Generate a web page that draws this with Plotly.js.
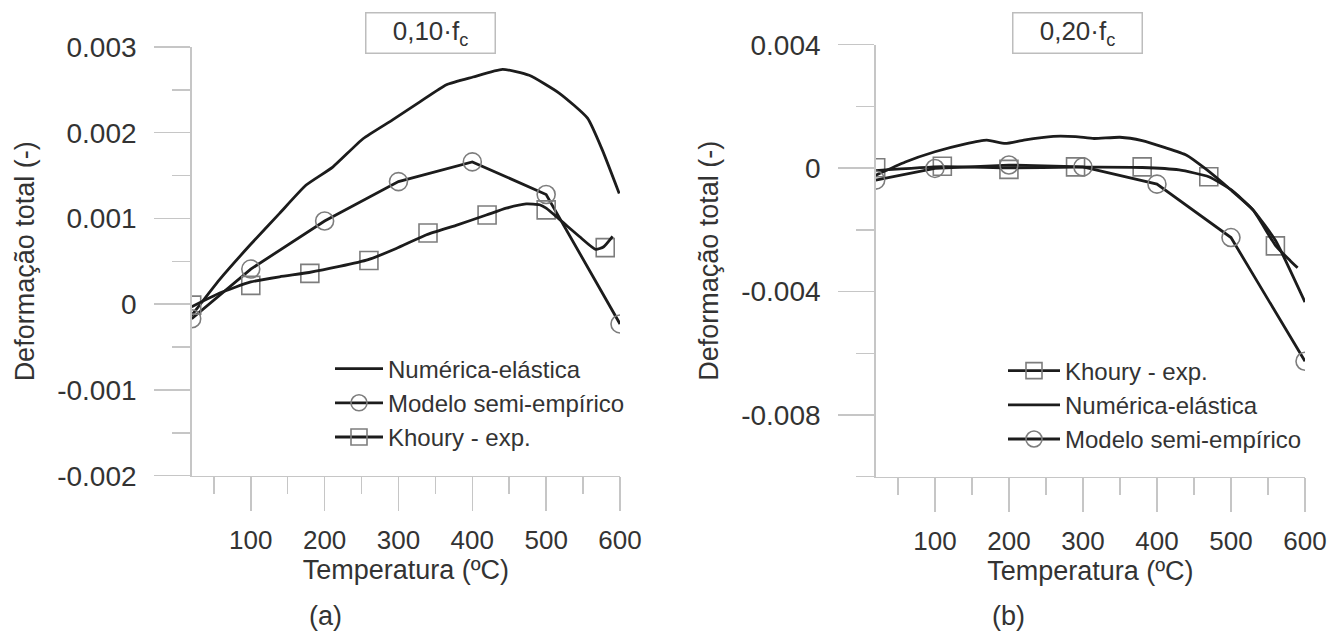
<!DOCTYPE html>
<html><head><meta charset="utf-8">
<script src="https://cdn.plot.ly/plotly-3.0.1.min.js"></script>
<style>html,body{margin:0;padding:0;background:#fff;} #chart{width:1330px;height:633px;}</style>
</head><body><div id="chart"></div>
<script>
// ---------- (a) 0,10·fc ----------
const numA_T = [20, 58, 99, 139, 175, 211, 252, 292, 329, 365, 401, 441, 477, 518, 556, 576, 599];
const numA_v = [-0.00013, 0.00029, 0.00069, 0.00106, 0.00139, 0.0016, 0.00193, 0.00215, 0.00236, 0.00256, 0.00265, 0.00274, 0.00267, 0.00246, 0.00217, 0.0018, 0.00129];
const modA_T = [20, 100, 200, 300, 400, 500, 600];
const modA_v = [-0.00017, 0.00041, 0.00097, 0.00143, 0.00166, 0.00128, -0.00023];
const khoA_pT = [20, 100, 180, 260, 340, 420, 500, 580];
const khoA_pv = [-0.00001, 0.00022, 0.00036, 0.00051, 0.00083, 0.00104, 0.0011, 0.00066];
const khoA_lT = [20, 58, 100, 139, 179, 220, 259, 297, 338, 378, 419, 446, 473, 491, 500, 522, 545, 567, 578, 590];
const khoA_lv = [-0.00003, 0.00013, 0.00026, 0.00032, 0.00037, 0.00044, 0.00052, 0.00065, 0.00081, 0.00092, 0.00104, 0.00112, 0.00117, 0.00116, 0.00112, 0.00096, 0.00079, 0.00064, 0.00067, 0.00079];

// ---------- (b) 0,20·fc ----------
const numB_T = [20, 60, 100, 140, 170, 195, 220, 260, 290, 315, 350, 380, 410, 440, 465, 500, 530, 560, 580, 600];
const numB_v = [-0.00023, 0.0002, 0.00053, 0.00078, 0.00091, 0.0008, 0.00091, 0.00103, 0.00102, 0.00096, 0.001, 0.00089, 0.00067, 0.00042, -0.00001, -0.00071, -0.00136, -0.00234, -0.00331, -0.00434];
const modB_T = [20, 100, 200, 300, 400, 500, 600];
const modB_v = [-0.00039, -0.00001, 0.0001, 0.00004, -0.00052, -0.00225, -0.00626];
const khoB_pT = [20, 110, 200, 290, 380, 470, 560];
const khoB_pv = [0.00001, 0.00006, -0.00004, 0.00004, 0.00004, -0.00028, -0.00252];
const khoB_lT = [20, 110, 200, 290, 380, 430, 470, 500, 530, 560, 580, 590];
const khoB_lv = [-0.00008, 0.00005, 0.00001, 0.00003, 0.00002, -0.00006, -0.00028, -0.0007, -0.00136, -0.0025, -0.003, -0.00323];

// ---------- labels ----------
const nameNum = 'Numérica-elástica';
const nameMod = 'Modelo semi-empírico';
const nameKho = 'Khoury - exp.';
const xTitle = 'Temperatura (ºC)';
const yTitle = 'Deformação total (-)';
const yA_tickvals = [-0.002, -0.001, 0, 0.001, 0.002, 0.003];
const yA_ticktext = ['-0.002', '-0.001', '0', '0.001', '0.002', '0.003'];
const yB_tickvals = [-0.008, -0.004, 0, 0.004];
const yB_ticktext = ['-0.008', '-0.004', '0', '0.004'];
const panelTitles = ['0,10·f<sub>c</sub>', '0,20·f<sub>c</sub>'];
const panelLetters = ['(a)', '(b)'];

// ---------- styles ----------
const LINE = {color: '#1c1c1c', width: 2.8};
const MK = {color: '#7d7d7d', size: 18, line: {width: 1.6, color: '#7d7d7d'}};
const FONT = 'Liberation Sans, Arial, Helvetica, sans-serif';
const AX = '#c6c6c6';

function numTrace(T, v, xa, ya, lg) {
  return {x: T, y: v, xaxis: xa, yaxis: ya, legend: lg, mode: 'lines', name: nameNum,
          line: Object.assign({shape: 'spline', smoothing: 0.5}, LINE)};
}
function modTrace(T, v, xa, ya, lg) {
  return {x: T, y: v, xaxis: xa, yaxis: ya, legend: lg, mode: 'lines+markers', name: nameMod,
          line: LINE, marker: Object.assign({symbol: 'circle-open'}, MK)};
}
function khoTraces(lT, lv, pT, pv, xa, ya, lg, grp) {
  return [
    {x: [null], y: [null], xaxis: xa, yaxis: ya, legend: lg, legendgroup: grp, mode: 'lines+markers', name: nameKho,
     line: LINE, marker: Object.assign({symbol: 'square-open'}, MK)},
    {x: pT, y: pv, xaxis: xa, yaxis: ya, legend: lg, legendgroup: grp, showlegend: false, mode: 'markers', name: nameKho,
     marker: Object.assign({symbol: 'square-open'}, MK)},
    {x: lT, y: lv, xaxis: xa, yaxis: ya, legend: lg, legendgroup: grp, showlegend: false, mode: 'lines', name: nameKho,
     line: Object.assign({shape: 'spline', smoothing: 0.5}, LINE)}
  ];
}

const data = [
  numTrace(numA_T, numA_v, 'x', 'y', 'legend'),
  modTrace(modA_T, modA_v, 'x', 'y', 'legend'),
  ...khoTraces(khoA_lT, khoA_lv, khoA_pT, khoA_pv, 'x', 'y', 'legend', 'ka'),
  ...khoTraces(khoB_lT, khoB_lv, khoB_pT, khoB_pv, 'x2', 'y2', 'legend2', 'kb'),
  numTrace(numB_T, numB_v, 'x2', 'y2', 'legend2'),
  modTrace(modB_T, modB_v, 'x2', 'y2', 'legend2')
];

function xAxis(dom, anchor) {
  return {domain: dom, anchor: anchor, range: [20, 600], tickmode: 'linear', tick0: 0, dtick: 100,
    showline: true, linecolor: AX, linewidth: 1.5, ticks: 'outside', ticklen: 34, tickcolor: AX, tickwidth: 1.5,
    minor: {tickmode: 'linear', tick0: 0, dtick: 50, ticks: 'outside', ticklen: 17, tickcolor: AX, tickwidth: 1.5},
    showgrid: false, zeroline: false, tickfont: {size: 26, color: '#333'}, ticklabelstandoff: 7,
    title: {text: xTitle, font: {size: 27, color: '#333'}, standoff: 0}};
}
function yAxis(dom, anchor, rng, tv, tt, minorD) {
  return {domain: dom, anchor: anchor, range: rng, tickmode: 'array', tickvals: tv, ticktext: tt,
    showline: true, linecolor: AX, linewidth: 1.5, ticks: 'outside', ticklen: 36, tickcolor: AX, tickwidth: 1.5,
    minor: {tickmode: 'linear', tick0: 0, dtick: minorD, ticks: 'outside', ticklen: 18, tickcolor: AX, tickwidth: 1.5},
    showgrid: false, zeroline: false, tickfont: {size: 28, color: '#333'}, ticklabelstandoff: 12,
    title: {text: yTitle, font: {size: 27, color: '#333'}, standoff: 14}};
}

const W = 1330, H = 633;
const layout = {
  width: W, height: H, margin: {l: 0, r: 0, t: 0, b: 0},
  paper_bgcolor: '#fff', plot_bgcolor: '#fff',
  font: {family: FONT, color: '#333'},
  xaxis: xAxis([191.7 / W, 620 / W], 'y'),
  yaxis: yAxis([1 - 475.7 / H, 1 - 47 / H], 'x', [-0.002, 0.003], yA_tickvals, yA_ticktext, 0.0005),
  xaxis2: xAxis([875.7 / W, 1305 / W], 'y2'),
  yaxis2: yAxis([1 - 476.7 / H, 1 - 44.7 / H], 'x2', [-0.010, 0.004], yB_tickvals, yB_ticktext, 0.002),
  legend: {x: 330 / W, y: 1 - 346.5 / H, xanchor: 'left', yanchor: 'top', bgcolor: 'rgba(0,0,0,0)',
           font: {size: 24, color: '#333'}, itemwidth: 48, tracegroupgap: 0},
  legend2: {x: 1003 / W, y: 1 - 348.5 / H, xanchor: 'left', yanchor: 'top', bgcolor: 'rgba(0,0,0,0)',
           font: {size: 24, color: '#333'}, itemwidth: 52, tracegroupgap: 0},
  showlegend: true,
  annotations: [
    {text: panelTitles[0], xref: 'paper', yref: 'paper', x: 430 / W, y: 1 - 33 / H, xanchor: 'center', yanchor: 'middle',
     showarrow: false, width: 126, height: 37, bordercolor: '#bdbdbd', borderwidth: 1.5, bgcolor: '#fff', font: {size: 26, color: '#333'}},
    {text: panelTitles[1], xref: 'paper', yref: 'paper', x: 1077.7 / W, y: 1 - 33 / H, xanchor: 'center', yanchor: 'middle',
     showarrow: false, width: 126, height: 37, bordercolor: '#bdbdbd', borderwidth: 1.5, bgcolor: '#fff', font: {size: 26, color: '#333'}},
    {text: panelLetters[0], xref: 'paper', yref: 'paper', x: 325 / W, y: 0.002, xanchor: 'center', yanchor: 'bottom',
     borderpad: 0, showarrow: false, font: {size: 27, color: '#333'}},
    {text: panelLetters[1], xref: 'paper', yref: 'paper', x: 1008 / W, y: 0.002, xanchor: 'center', yanchor: 'bottom',
     borderpad: 0, showarrow: false, font: {size: 27, color: '#333'}}
  ]
};

Plotly.newPlot('chart', data, layout, {displayModeBar: false, staticPlot: true});
</script>
</body></html>
